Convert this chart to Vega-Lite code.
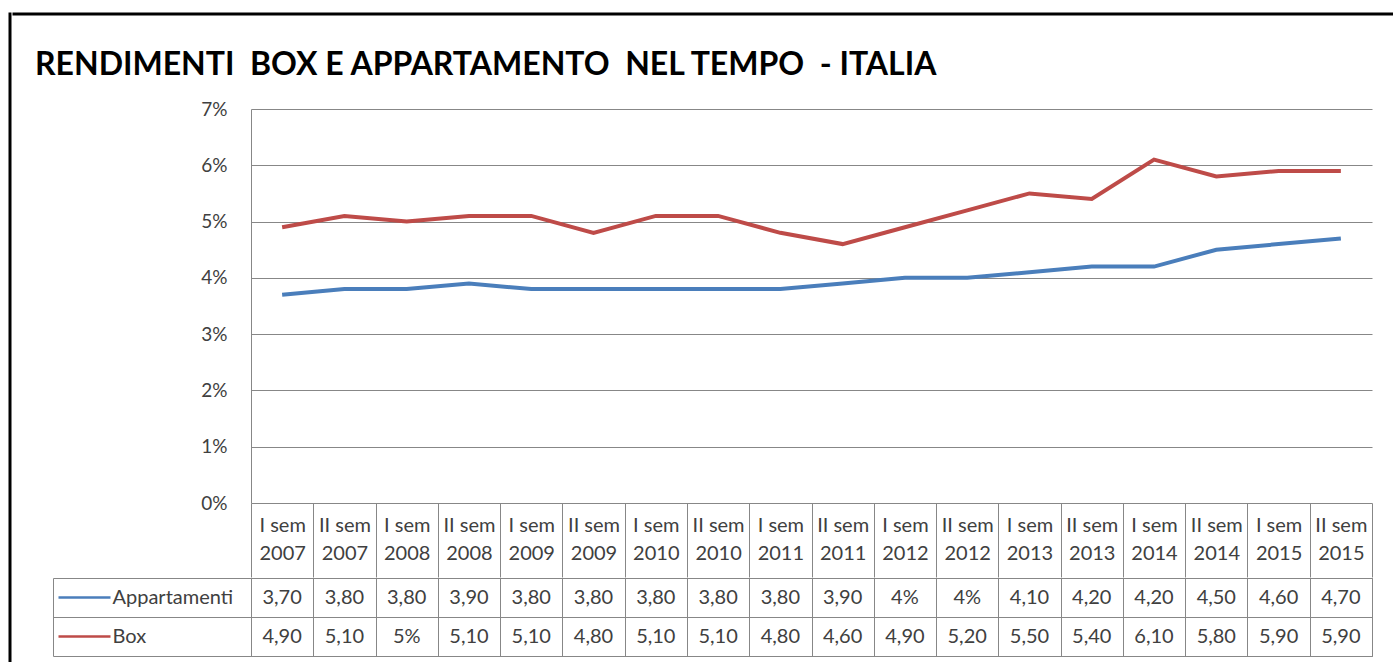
{
  "$schema": "https://vega.github.io/schema/vega-lite/v6.json",
  "background": "white",
  "padding": {"left": 8, "top": 12, "right": 0, "bottom": 0},
  "config": {"font": "Lato", "view": {"stroke": null}},
  "datasets": {
    "dati": [
      {"periodo": "I sem 2007", "serie": "Appartamenti", "valore": 3.7, "etichetta": "3,70"},
      {"periodo": "I sem 2007", "serie": "Box", "valore": 4.9, "etichetta": "4,90"},
      {"periodo": "II sem 2007", "serie": "Appartamenti", "valore": 3.8, "etichetta": "3,80"},
      {"periodo": "II sem 2007", "serie": "Box", "valore": 5.1, "etichetta": "5,10"},
      {"periodo": "I sem 2008", "serie": "Appartamenti", "valore": 3.8, "etichetta": "3,80"},
      {"periodo": "I sem 2008", "serie": "Box", "valore": 5.0, "etichetta": "5%"},
      {"periodo": "II sem 2008", "serie": "Appartamenti", "valore": 3.9, "etichetta": "3,90"},
      {"periodo": "II sem 2008", "serie": "Box", "valore": 5.1, "etichetta": "5,10"},
      {"periodo": "I sem 2009", "serie": "Appartamenti", "valore": 3.8, "etichetta": "3,80"},
      {"periodo": "I sem 2009", "serie": "Box", "valore": 5.1, "etichetta": "5,10"},
      {"periodo": "II sem 2009", "serie": "Appartamenti", "valore": 3.8, "etichetta": "3,80"},
      {"periodo": "II sem 2009", "serie": "Box", "valore": 4.8, "etichetta": "4,80"},
      {"periodo": "I sem 2010", "serie": "Appartamenti", "valore": 3.8, "etichetta": "3,80"},
      {"periodo": "I sem 2010", "serie": "Box", "valore": 5.1, "etichetta": "5,10"},
      {"periodo": "II sem 2010", "serie": "Appartamenti", "valore": 3.8, "etichetta": "3,80"},
      {"periodo": "II sem 2010", "serie": "Box", "valore": 5.1, "etichetta": "5,10"},
      {"periodo": "I sem 2011", "serie": "Appartamenti", "valore": 3.8, "etichetta": "3,80"},
      {"periodo": "I sem 2011", "serie": "Box", "valore": 4.8, "etichetta": "4,80"},
      {"periodo": "II sem 2011", "serie": "Appartamenti", "valore": 3.9, "etichetta": "3,90"},
      {"periodo": "II sem 2011", "serie": "Box", "valore": 4.6, "etichetta": "4,60"},
      {"periodo": "I sem 2012", "serie": "Appartamenti", "valore": 4.0, "etichetta": "4%"},
      {"periodo": "I sem 2012", "serie": "Box", "valore": 4.9, "etichetta": "4,90"},
      {"periodo": "II sem 2012", "serie": "Appartamenti", "valore": 4.0, "etichetta": "4%"},
      {"periodo": "II sem 2012", "serie": "Box", "valore": 5.2, "etichetta": "5,20"},
      {"periodo": "I sem 2013", "serie": "Appartamenti", "valore": 4.1, "etichetta": "4,10"},
      {"periodo": "I sem 2013", "serie": "Box", "valore": 5.5, "etichetta": "5,50"},
      {"periodo": "II sem 2013", "serie": "Appartamenti", "valore": 4.2, "etichetta": "4,20"},
      {"periodo": "II sem 2013", "serie": "Box", "valore": 5.4, "etichetta": "5,40"},
      {"periodo": "I sem 2014", "serie": "Appartamenti", "valore": 4.2, "etichetta": "4,20"},
      {"periodo": "I sem 2014", "serie": "Box", "valore": 6.1, "etichetta": "6,10"},
      {"periodo": "II sem 2014", "serie": "Appartamenti", "valore": 4.5, "etichetta": "4,50"},
      {"periodo": "II sem 2014", "serie": "Box", "valore": 5.8, "etichetta": "5,80"},
      {"periodo": "I sem 2015", "serie": "Appartamenti", "valore": 4.6, "etichetta": "4,60"},
      {"periodo": "I sem 2015", "serie": "Box", "valore": 5.9, "etichetta": "5,90"},
      {"periodo": "II sem 2015", "serie": "Appartamenti", "valore": 4.7, "etichetta": "4,70"},
      {"periodo": "II sem 2015", "serie": "Box", "valore": 5.9, "etichetta": "5,90"}
    ]
  },
  "spacing": 0,
  "hconcat": [
    {
      "data": {"values": []},
      "mark": "point",
      "width": 0.001,
      "height": 700,
      "view": {"stroke": "black", "strokeWidth": 3}
    },
    {
      "spacing": 33,
      "vconcat": [
        {
          "data": {"values": []},
          "mark": "point",
          "width": 1400,
          "height": 0.001,
          "view": {"stroke": "black", "strokeWidth": 3}
        },
        {
          "spacing": 0,
          "hconcat": [
            {
              "data": {"values": []},
              "mark": "point",
              "width": 21,
              "height": 1
            },
            {
              "spacing": -12,
              "vconcat": [
                {
                  "title": {
                    "text": "RENDIMENTI\u00a0 BOX E APPARTAMENTO\u00a0 NEL TEMPO\u00a0 - ITALIA",
                    "anchor": "start",
                    "frame": "group",
                    "dx": -216,
                    "font": "Lato",
                    "fontSize": 32,
                    "fontWeight": "bold",
                    "color": "#000000",
                    "baseline": "alphabetic",
                    "offset": -7
                  },
                  "width": 1121,
                  "height": 394,
                  "data": {"name": "dati"},
                  "mark": {"type": "line", "strokeWidth": 4},
                  "encoding": {
                    "x": {
                      "field": "periodo",
                      "type": "nominal",
                      "sort": null,
                      "bandPosition": 0.5,
                      "scale": {"type": "band", "paddingInner": 0, "paddingOuter": 0},
                      "axis": {
                        "title": null,
                        "domain": false,
                        "grid": false,
                        "ticks": true,
                        "tickBand": "extent",
                        "tickSize": 74,
                        "tickColor": "#878787",
                        "tickWidth": 1,
                        "labelExpr": "[slice(datum.label, 0, -5), slice(datum.label, -4)]",
                        "labelAngle": 0,
                        "labelAlign": "center",
                        "labelBaseline": "top",
                        "labelLineHeight": 28,
                        "labelPadding": -62,
                        "labelFontSize": 20,
                        "labelColor": "#404040",
                        "labelOverlap": false
                      }
                    },
                    "y": {
                      "field": "valore",
                      "type": "quantitative",
                      "scale": {"domain": [0, 7], "nice": false},
                      "axis": {
                        "title": null,
                        "values": [0, 1, 2, 3, 4, 5, 6, 7],
                        "labelExpr": "datum.value + '%'",
                        "ticks": false,
                        "domain": true,
                        "domainColor": "#878787",
                        "grid": true,
                        "gridColor": "#878787",
                        "gridOpacity": 1,
                        "labelPadding": 24,
                        "labelFontSize": 19,
                        "labelColor": "#404040"
                      }
                    },
                    "color": {
                      "field": "serie",
                      "type": "nominal",
                      "scale": {"domain": ["Appartamenti", "Box"], "range": ["#4A7EBB", "#BE4B48"]},
                      "legend": null
                    }
                  }
                },
                {
                  "width": 1121,
                  "height": 78,
                  "data": {"name": "dati"},
                  "view": {"stroke": "#878787"},
                  "encoding": {
                    "x": {
                      "field": "periodo",
                      "type": "nominal",
                      "sort": null,
                      "scale": {"type": "band", "paddingInner": 0, "paddingOuter": 0},
                      "axis": {
                        "title": null,
                        "labels": false,
                        "ticks": false,
                        "domain": false,
                        "grid": true,
                        "tickBand": "extent",
                        "gridColor": "#878787",
                        "gridOpacity": 1
                      }
                    }
                  },
                  "layer": [
                    {
                      "mark": {"type": "text", "fontSize": 20, "color": "#404040"},
                      "encoding": {
                        "text": {"field": "etichetta"},
                        "y": {
                          "field": "serie",
                          "type": "nominal",
                          "scale": {"domain": ["Appartamenti", "Box"], "paddingInner": 0, "paddingOuter": 0},
                          "axis": {
                            "title": null,
                            "orient": "left",
                            "offset": 198,
                            "domain": true,
                            "domainColor": "#878787",
                            "ticks": true,
                            "tickBand": "extent",
                            "tickSize": -198,
                            "tickColor": "#878787",
                            "grid": true,
                            "gridColor": "#878787",
                            "gridOpacity": 1,
                            "labels": true,
                            "labelAlign": "left",
                            "labelBaseline": "middle",
                            "labelPadding": 139,
                            "labelFontSize": 20,
                            "labelColor": "#404040"
                          }
                        }
                      }
                    },
                    {
                      "mark": {"type": "rect", "opacity": 0},
                      "encoding": {
                        "y": {
                          "field": "serie",
                          "type": "nominal",
                          "scale": {"domain": ["Appartamenti", "Box"], "paddingInner": 0, "paddingOuter": 0},
                          "axis": {
                            "title": null,
                            "orient": "left",
                            "offset": 141,
                            "domain": false,
                            "labels": false,
                            "grid": false,
                            "ticks": true,
                            "tickSize": 52,
                            "tickWidth": 2.5,
                            "tickColor": {"condition": {"test": "datum.value === 'Box'", "value": "#BE4B48"}, "value": "#4A7EBB"}
                          }
                        }
                      }
                    }
                  ],
                  "resolve": {"axis": {"y": "independent"}}
                }
              ]
            }
          ]
        }
      ]
    }
  ]
}
